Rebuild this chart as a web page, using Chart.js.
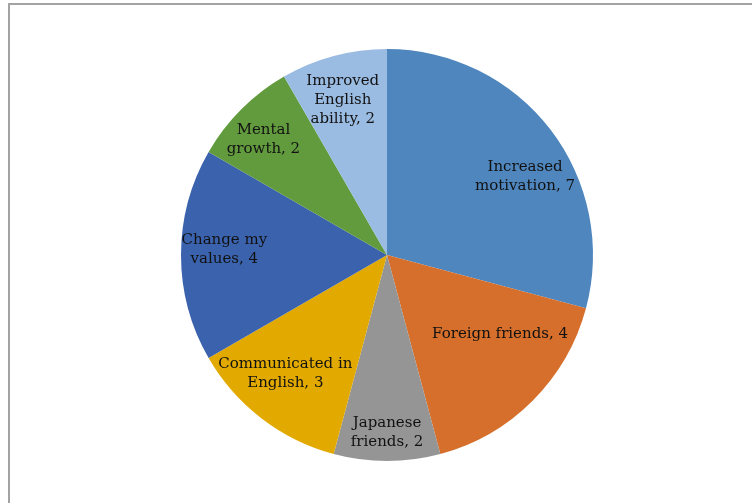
<!DOCTYPE html>
<html>
<head>
<meta charset="utf-8">
<script src="https://cdn.jsdelivr.net/npm/chart.js@4"></script>
<style>
    html, body { margin: 0; padding: 0; background: #fff; overflow: hidden; }
    #frame {
        position: absolute; left: 8px; top: 3px; width: 900px; height: 700px;
        border-left: 2px solid #a3a3a3; border-top: 2px solid #a3a3a3;
    }
    #wrap { position: absolute; left: 0; top: 0; width: 752px; height: 503px; }
</style>
</head>
<body>
<div id="frame"></div>
<div id="wrap"><canvas id="pieChart" width="752" height="503"></canvas></div>
<script>
// data
const categories = [
    ['Increased', 'motivation, 7'],
    ['Foreign friends, 4'],
    ['Japanese', 'friends, 2'],
    ['Communicated in', 'English, 3'],
    ['Change my', 'values, 4'],
    ['Mental', 'growth, 2'],
    ['Improved', 'English', 'ability, 2']
];
const counts = [7, 4, 2, 3, 4, 2, 2];
const sliceColors = ['#4f86bd', '#d56f2b', '#959595', '#e2aa00', '#3b62ad', '#629b3e', '#9bbce2'];

// where each label sits inside its slice: fraction of radius, angle nudge (deg)
const labelRadius = [0.77, 0.67, 0.86, 0.76, 0.79, 0.82, 0.78];
const labelNudge = [8, -10, 0, 3, 2, -2, -1];

const sliceLabels = {
    id: 'sliceLabels',
    afterDatasetsDraw(chart) {
        const ctx = chart.ctx;
        const meta = chart.getDatasetMeta(0);
        ctx.save();
        ctx.font = '15px "DejaVu Serif", "Liberation Serif", serif';
        ctx.fillStyle = '#111';
        ctx.textAlign = 'center';
        ctx.textBaseline = 'middle';
        meta.data.forEach((arc, i) => {
            const p = arc.getProps(['x', 'y', 'startAngle', 'endAngle', 'outerRadius'], true);
            const mid = (p.startAngle + p.endAngle) / 2 + labelNudge[i] * Math.PI / 180;
            const r = p.outerRadius * labelRadius[i];
            const cx = p.x + Math.cos(mid) * r;
            const cy = p.y + Math.sin(mid) * r;
            const lines = categories[i];
            const lh = 19;
            lines.forEach((line, j) => {
                ctx.fillText(line, cx, cy + (j - (lines.length - 1) / 2) * lh);
            });
        });
        ctx.restore();
    }
};

const pieCtx = document.getElementById('pieChart').getContext('2d');
const pieChart = new Chart(pieCtx, {
    type: 'pie',
    data: {
        labels: categories.map(l => l.join(' ')),
        datasets: [{
            data: counts,
            backgroundColor: sliceColors,
            borderWidth: 0
        }]
    },
    options: {
        responsive: false,
        animation: false,
        layout: {
            padding: { left: 181, right: 159, top: 49, bottom: 42 }
        },
        plugins: {
            legend: { display: false },
            tooltip: { enabled: false }
        }
    },
    plugins: [sliceLabels]
});
</script>
</body>
</html>
